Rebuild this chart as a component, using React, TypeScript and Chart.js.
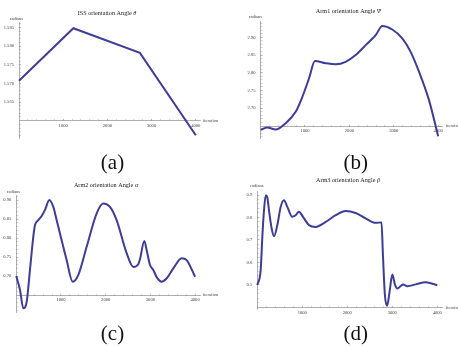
import React, { useEffect, useRef } from 'react';
import { Chart, registerables } from 'chart.js';

Chart.register(...registerables);

// ---------- Data ----------
// (a) ISS orientation angle theta
const issIter = [0, 1230, 2735, 4000];
const issAngle = [1.5707, 1.5848, 1.5782, 1.5561];
const issYTicks = [1.565, 1.57, 1.575, 1.58, 1.585];
const issYLabels = ['1.565', '1.570', '1.575', '1.580', '1.585'];

// (b) Arm1 orientation angle psi
const arm1Iter = [0, 150, 340, 565, 790, 940, 1090, 1225, 1466, 1691, 1916, 2141, 2367, 2592, 2741, 2966, 3191, 3380, 3568, 3793, 4000];
const arm1Angle = [2.639, 2.646, 2.640, 2.658, 2.690, 2.732, 2.784, 2.833, 2.827, 2.824, 2.831, 2.850, 2.878, 2.906, 2.932, 2.922, 2.897, 2.859, 2.803, 2.723, 2.621];
const arm1YTicks = [2.7, 2.75, 2.8, 2.85, 2.9];
const arm1YLabels = ['2.70', '2.75', '2.80', '2.85', '2.90'];

// (c) Arm2 orientation angle alpha
const arm2Iter = [0, 83, 157, 232, 306, 380, 418, 492, 567, 642, 739, 828, 903, 977, 1126, 1261, 1388, 1574, 1798, 1947, 2096, 2245, 2469, 2618, 2729, 2767, 2864, 2917, 2991, 3065, 3140, 3252, 3365, 3512, 3700, 3812, 4000];
const arm2Angle = [0.700, 0.663, 0.615, 0.632, 0.716, 0.803, 0.834, 0.847, 0.858, 0.874, 0.900, 0.882, 0.847, 0.812, 0.742, 0.685, 0.703, 0.777, 0.865, 0.891, 0.882, 0.847, 0.760, 0.724, 0.731, 0.744, 0.792, 0.768, 0.729, 0.716, 0.697, 0.685, 0.694, 0.720, 0.747, 0.742, 0.698];
const arm2YTicks = [0.7, 0.75, 0.8, 0.85, 0.9];
const arm2YLabels = ['0.70', '0.75', '0.80', '0.85', '0.90'];

// (d) Arm3 orientation angle beta
const arm3Iter = [0, 75, 112, 149, 188, 223, 260, 319, 371, 445, 519, 593, 667, 778, 852, 926, 1015, 1148, 1297, 1519, 1741, 1963, 2185, 2408, 2630, 2760, 2790, 2835, 2885, 2940, 3000, 3060, 3115, 3240, 3335, 3520, 3741, 4000];
const arm3Angle = [0.499, 0.566, 0.714, 0.832, 0.899, 0.889, 0.832, 0.751, 0.717, 0.766, 0.847, 0.877, 0.847, 0.803, 0.810, 0.825, 0.803, 0.766, 0.758, 0.780, 0.810, 0.829, 0.820, 0.796, 0.776, 0.778, 0.640, 0.455, 0.407, 0.470, 0.546, 0.500, 0.484, 0.502, 0.494, 0.502, 0.511, 0.499];
const arm3YTicks = [0.5, 0.6, 0.7, 0.8, 0.9];
const arm3YLabels = ['0.5', '0.6', '0.7', '0.8', '0.9'];

const xMajorTicks = [1000, 2000, 3000, 4000];
const xMajorLabels = ['1000', '2000', '3000', '4000'];

// ---------- Styling ----------
const LINE_COLOR = '#3d3d99';
const AXIS_COLOR = '#9a9a9a';
const MINOR_COLOR = '#c4c4c4';
const TEXT_COLOR = '#444';
const SERIF = '"Liberation Serif", "DejaVu Serif", serif';
const TICK_SIZE = 4.6;
const TITLE_SIZE = 6.2;

type Panel = {
  left: number; top: number; width: number; height: number;
  pad: { left: number; top: number; right: number; bottom: number };
  xMax: number; yMin: number; yMax: number; yCross: number;
  xs: number[]; ys: number[]; smooth: boolean;
  yTicks: number[]; yLabels: string[]; yMinorStep: number;
  title: string; greek: string; titleX: number; titleY: number;
  radX: number; radY: number; iterX: number; iterY: number; iterText: string;
};

const panels: Panel[] = [
  {
    left: 0, top: 0, width: 229, height: 150,
    pad: { left: 19, top: 22, right: 29, bottom: 12 },
    xMax: 4095, yMin: 1.55536, yMax: 1.58648, yCross: 1.56,
    xs: issIter, ys: issAngle, smooth: false,
    yTicks: issYTicks, yLabels: issYLabels, yMinorStep: 0.001,
    title: 'ISS orientation Angle ', greek: 'θ', titleX: 107, titleY: 13.3,
    radX: 16.5, radY: 18.8, iterX: 203, iterY: 120.7, iterText: 'iteration',
  },
  {
    left: 229, top: 0, width: 229, height: 150,
    pad: { left: 31.6, top: 21.7, right: 16, bottom: 12 },
    xMax: 4086, yMin: 2.6162, yMax: 2.944, yCross: 2.65,
    xs: arm1Iter, ys: arm1Angle, smooth: true,
    yTicks: arm1YTicks, yLabels: arm1YLabels, yMinorStep: 0.01,
    title: 'Arm1 orientation Angle ', greek: 'Ψ', titleX: 119.5, titleY: 11.5,
    radX: 26.5, radY: 16.3, iterX: 217, iterY: 126, iterText: 'iteration',
  },
  {
    left: 0, top: 172, width: 229, height: 150,
    pad: { left: 16.3, top: 23, right: 29, bottom: 10 },
    xMax: 4110, yMin: 0.6053, yMax: 0.9132, yCross: 0.65,
    xs: arm2Iter, ys: arm2Angle, smooth: true,
    yTicks: arm2YTicks, yLabels: arm2YLabels, yMinorStep: 0.01,
    title: 'Arm2 orientation Angle ', greek: 'α', titleX: 106, titleY: 13,
    radX: 13.5, radY: 19.7, iterX: 203, iterY: 123, iterText: 'iteration',
  },
  {
    left: 229, top: 172, width: 229, height: 150,
    pad: { left: 28.3, top: 19.7, right: 16, bottom: 13 },
    xMax: 4104, yMin: 0.3924, yMax: 0.9147, yCross: 0.4,
    xs: arm3Iter, ys: arm3Angle, smooth: true,
    yTicks: arm3YTicks, yLabels: arm3YLabels, yMinorStep: 0.02,
    title: 'Arm3 orientation Angle ', greek: 'β', titleX: 119, titleY: 8.3,
    radX: 28, radY: 13.7, iterX: 217, iterY: 135.3, iterText: 'iteration',
  },
];

const panelLabels = ['(a)', '(b)', '(c)', '(d)'];
const panelLabelPos = [
  { x: 112.5, y: 161.7 },
  { x: 355.8, y: 161.7 },
  { x: 112.5, y: 332.7 },
  { x: 355.8, y: 332.7 },
];

function near(a: number, b: number) {
  return Math.abs(a - b) < 1e-7;
}

function buildChart(canvas: HTMLCanvasElement, p: Panel, idx: number) {
  const xTickValues: number[] = [];
  for (let v = 200; v <= p.xMax; v += 200) xTickValues.push(v);
  const yTickValues: number[] = [];
  const start = Math.ceil((p.yMin + 1e-9) / p.yMinorStep);
  for (let k = start; k * p.yMinorStep <= p.yMax; k++) {
    const v = +(k * p.yMinorStep).toFixed(6);
    if (!near(v, p.yCross)) yTickValues.push(v);
  }

  const textPlugin = {
    id: 'panelTexts' + idx,
    afterDraw(chart: any) {
      const ctx = chart.ctx as CanvasRenderingContext2D;
      ctx.save();
      ctx.textBaseline = 'middle';
      ctx.fillStyle = '#222';
      const nf = `${TITLE_SIZE}px ${SERIF}`;
      const itf = `italic ${TITLE_SIZE}px ${SERIF}`;
      ctx.font = nf;
      const w1 = ctx.measureText(p.title).width;
      ctx.font = itf;
      const w2 = ctx.measureText(p.greek).width;
      const x0 = p.titleX - (w1 + w2) / 2;
      ctx.textAlign = 'left';
      ctx.font = nf;
      ctx.fillText(p.title, x0, p.titleY);
      ctx.font = itf;
      ctx.fillText(p.greek, x0 + w1, p.titleY);
      ctx.fillStyle = TEXT_COLOR;
      ctx.font = `${TICK_SIZE}px ${SERIF}`;
      ctx.textAlign = 'center';
      ctx.fillText('radians', p.radX, p.radY);
      ctx.textAlign = 'left';
      ctx.fillText(p.iterText, p.iterX, p.iterY);
      ctx.restore();
    },
  };

  const isXMajor = (v: number) => xMajorTicks.some((t) => near(t, v));
  const isYMajor = (v: number) => p.yTicks.some((t) => near(t, v));

  return new Chart(canvas, {
    type: 'line',
    data: {
      datasets: [
        {
          data: p.xs.map((x, i) => ({ x, y: p.ys[i] })),
          borderColor: LINE_COLOR,
          borderWidth: 2,
          pointRadius: 0,
          fill: false,
          tension: p.smooth ? 0.4 : 0,
          cubicInterpolationMode: p.smooth ? 'monotone' : 'default',
          clip: false,
        } as any,
      ],
    },
    options: {
      responsive: false,
      animation: false,
      events: [],
      layout: { padding: { left: 0, top: p.pad.top, right: p.pad.right, bottom: p.pad.bottom } },
      plugins: {
        legend: { display: false },
        tooltip: { enabled: false },
        title: { display: false },
      },
      scales: {
        x: {
          type: 'linear',
          min: 0,
          max: p.xMax,
          position: { y: p.yCross } as any,
          afterFit: (s: any) => { s.height = 0; },
          afterBuildTicks: (s: any) => { s.ticks = xTickValues.map((v) => ({ value: v })); },
          grid: {
            display: true,
            drawOnChartArea: false,
            drawTicks: true,
            tickLength: -2,
            color: (c: any) => (c.tick && isXMajor(c.tick.value) ? AXIS_COLOR : MINOR_COLOR),
            lineWidth: 0.7,
          },
          border: { display: true, color: AXIS_COLOR, width: 0.8 },
          ticks: {
            autoSkip: false,
            maxRotation: 0,
            padding: 4.5,
            color: TEXT_COLOR,
            font: { family: SERIF, size: TICK_SIZE },
            callback: (v: any) => {
              const i = xMajorTicks.findIndex((t) => near(t, Number(v)));
              return i >= 0 ? xMajorLabels[i] : '';
            },
          },
        },
        y: {
          type: 'linear',
          position: 'left',
          min: p.yMin,
          max: p.yMax,
          afterFit: (s: any) => { s.width = p.pad.left; },
          afterBuildTicks: (s: any) => { s.ticks = yTickValues.map((v) => ({ value: v })); },
          grid: {
            display: true,
            drawOnChartArea: false,
            drawTicks: true,
            tickLength: -2,
            color: (c: any) => (c.tick && isYMajor(c.tick.value) ? AXIS_COLOR : MINOR_COLOR),
            lineWidth: 0.7,
          },
          border: { display: true, color: AXIS_COLOR, width: 0.8 },
          ticks: {
            autoSkip: false,
            padding: 7,
            color: TEXT_COLOR,
            font: { family: SERIF, size: TICK_SIZE },
            callback: (v: any) => {
              const i = p.yTicks.findIndex((t) => near(t, Number(v)));
              return i >= 0 ? p.yLabels[i] : '';
            },
          },
        },
      },
    } as any,
    plugins: [textPlugin as any],
  });
}

function PanelChart({ p, idx }: { p: Panel; idx: number }) {
  const ref = useRef<HTMLCanvasElement | null>(null);
  useEffect(() => {
    if (!ref.current) return;
    const chart = buildChart(ref.current, p, idx);
    return () => chart.destroy();
  }, [p, idx]);
  return (
    <canvas
      ref={ref}
      width={p.width}
      height={p.height}
      style={{ position: 'absolute', left: p.left, top: p.top, width: p.width, height: p.height }}
    />
  );
}

export default function App() {
  return (
    <div
      style={{
        position: 'fixed',
        left: 0,
        top: 0,
        width: 458,
        height: 347,
        background: '#fff',
        overflow: 'hidden',
      }}
    >
      {panels.map((p, i) => (
        <PanelChart key={i} p={p} idx={i} />
      ))}
      {panelLabels.map((t, i) => (
        <div
          key={t}
          style={{
            position: 'absolute',
            left: panelLabelPos[i].x - 30,
            top: panelLabelPos[i].y - 12,
            width: 60,
            height: 24,
            lineHeight: '24px',
            textAlign: 'center',
            fontFamily: SERIF,
            fontSize: 21,
            color: '#111',
          }}
        >
          {t}
        </div>
      ))}
    </div>
  );
}
